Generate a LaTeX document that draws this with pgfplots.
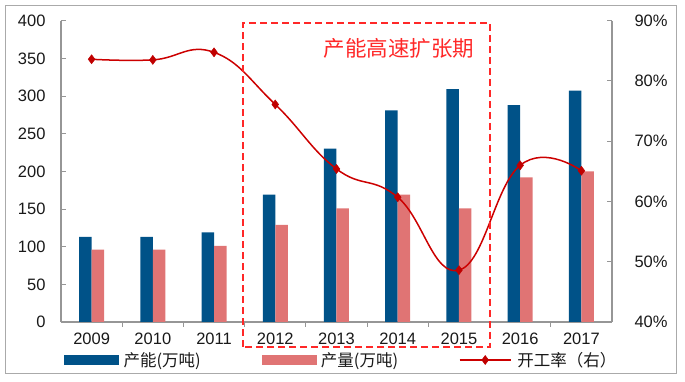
\documentclass[border=0pt]{standalone}
\usepackage{pgfplots}
\pgfplotsset{compat=1.18}
\usepackage{fontspec}
\setmainfont{Liberation Sans}
\newfontfamily\cjk{Noto Sans CJK SC}
\definecolor{barblue}{RGB}{0,82,136}
\definecolor{barpink}{RGB}{224,116,116}
\definecolor{linered}{RGB}{204,0,0}
\definecolor{markred}{RGB}{192,0,0}
\definecolor{axisgrey}{RGB}{150,150,150}
\definecolor{boxred}{RGB}{255,40,40}
\definecolor{framegrey}{RGB}{170,170,170}
\definecolor{textdark}{RGB}{25,25,25}
\pgfplotsset{mylineleg/.style={legend image code/.code={\draw[mark repeat=2,mark phase=2,##1] plot coordinates {(0pt,0pt) (25.5pt,0pt) (51pt,0pt)};}}}

\begin{document}
\begin{tikzpicture}
\useasboundingbox (0,0) rectangle (685pt,382pt);
\draw[framegrey, line width=1pt] (5.5pt,8.7pt) rectangle (676pt,376.3pt);
\begin{axis}[
  at={(61pt,60pt)}, anchor=south west,
  scale only axis, width=551pt, height=301.3pt,
  xmin=-0.5, xmax=8.5, ymin=0, ymax=400,
  axis x line*=bottom, axis y line*=left,
  axis line style={axisgrey, line width=1.2pt},
  tick align=inside,
  xtick={0,...,8},
  xticklabels={2009,2010,2011,2012,2013,2014,2015,2016,2017},
  major x tick style={draw=none},
  minor xtick={0.5,1.5,...,7.5},
  minor tick length=5pt,
  major tick length=5pt,
  tick style={axisgrey, line width=1pt},
  ytick={0,50,...,400},
  ticklabel style={font=\fontsize{16.5}{18}\selectfont, text=textdark},
  /pgf/number format/assume math mode=true,
  yticklabel style={xshift=-12pt},
  xticklabel style={yshift=-2pt},
  ybar=0pt, bar width=12.5pt,
]
\addplot[fill=barblue, draw=none] coordinates {(0,113) (1,113) (2,119) (3,169) (4,230) (5,281) (6,309) (7,288) (8,307)};
\addplot[fill=barpink, draw=none] coordinates {(0,96) (1,96) (2,101) (3,129) (4,151) (5,169) (6,151) (7,192) (8,200)};
\end{axis}
\begin{axis}[
  at={(61pt,60pt)}, anchor=south west,
  scale only axis, width=551pt, height=301.3pt,
  xmin=-0.5, xmax=8.5, ymin=40, ymax=90,
  axis x line=none, axis y line*=right,
  axis line style={axisgrey, line width=1.2pt},
  tick align=inside,
  major tick length=5pt,
  tick style={axisgrey, line width=1pt},
  ytick={40,50,...,90},
  yticklabel={\pgfmathprintnumber{\tick}\%},
  ticklabel style={font=\fontsize{16.5}{18}\selectfont, text=textdark},
  /pgf/number format/assume math mode=true,
  yticklabel style={xshift=19pt},
  legend columns=3,
  legend style={at={(axis description cs:0.0054,-0.1261)}, anchor=west, draw=none, fill=none, inner sep=0pt,
    font=\cjk\fontsize{16.5}{18}\selectfont, text=textdark},
  legend cell align=left,
]
\addlegendimage{legend image code/.code={\fill[barblue] (0pt,-4.5pt) rectangle (54pt,4.5pt);}}
\addlegendentry{\makebox[139pt][l]{\hspace{3pt}产能(万吨)}}
\addlegendimage{legend image code/.code={\fill[barpink] (0pt,-4.5pt) rectangle (54pt,4.5pt);}}
\addlegendentry{\makebox[139pt][l]{\hspace{3pt}产量(万吨)}}
\addplot[linered, line width=1.5pt, smooth, tension=0.75, mark=diamond*, mark size=4.5pt,
  mark options={fill=markred, draw=markred, line width=0.5pt}, mylineleg]
  coordinates {(0,83.6) (1,83.5) (2,84.75) (3,76.1) (4,65.4) (5,60.7) (6,48.6) (7,66.0) (8,65.1)};
\addlegendentry{\hspace{4pt}开工率（右）}
\end{axis}
\draw[boxred, line width=1.7pt, dash pattern=on 7pt off 4pt] (243pt,35pt) rectangle (490pt,359pt);
\node[text=boxred, font=\cjk\fontsize{21.5}{24}\selectfont] at (399pt,333.7pt) {产能高速扩张期};
\end{tikzpicture}
\end{document}
